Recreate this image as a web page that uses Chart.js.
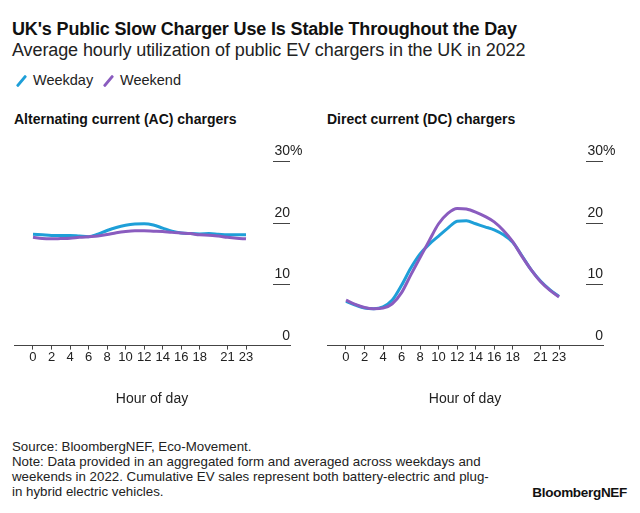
<!DOCTYPE html>
<html>
<head>
<meta charset="utf-8">
<script src="https://cdn.jsdelivr.net/npm/chart.js@4.4.1/dist/chart.umd.min.js"></script>
<style>
  html, body { margin: 0; padding: 0; background: #fff; }
  body { width: 640px; height: 513px; position: relative; overflow: hidden;
         font-family: "Liberation Sans", Arial, sans-serif; color: #111; }
  .abs { position: absolute; white-space: nowrap; }
  #title { left: 12px; top: 19px; font-size: 18px; font-weight: bold; letter-spacing: -0.15px; }
  #subtitle { left: 12px; top: 40px; font-size: 18px; letter-spacing: -0.1px; color: #222; }
  .legend { top: 72px; font-size: 14.5px; color: #222; }
  .swatch { position: absolute; top: 2px; width: 3px; height: 14px; border-radius: 1px;
            transform: rotate(40deg); }
  .panel-title { top: 111px; font-size: 14px; font-weight: bold; }
  canvas { position: absolute; }
  #footer { left: 12px; top: 439px; font-size: 13.3px; line-height: 15px; color: #222; }
  #brand { right: 13px; top: 485px; font-size: 13.5px; font-weight: bold; letter-spacing: -0.3px; }
</style>
</head>
<body>
<div id="title" class="abs">UK's Public Slow Charger Use Is Stable Throughout the Day</div>
<div id="subtitle" class="abs">Average hourly utilization of public EV chargers in the UK in 2022</div>
<div class="abs legend" style="left:15px"><span class="swatch" style="left:5px;background:#1e9fd8"></span><span style="margin-left:18px">Weekday</span></div>
<div class="abs legend" style="left:102px"><span class="swatch" style="left:5px;background:#8a5cbf"></span><span style="margin-left:18px">Weekend</span></div>
<div class="abs panel-title" style="left:14px">Alternating current (AC) chargers</div>
<div class="abs panel-title" style="left:327px">Direct current (DC) chargers</div>

<canvas id="acChart" style="left:0;top:140px;width:320px;height:268px" width="320" height="268"></canvas>
<canvas id="dcChart" style="left:313px;top:140px;width:320px;height:268px" width="320" height="268"></canvas>

<div id="footer" class="abs">Source: BloombergNEF, Eco-Movement.<br>Note: Data provided in an aggregated form and averaged across weekdays and<br>weekends in 2022. Cumulative EV sales represent both battery-electric and plug-<br>in hybrid electric vehicles.</div>
<div id="brand" class="abs">BloombergNEF</div>

<script>
/* ─────────────────────────────────────────────
   Data (utilization, % of hour)
───────────────────────────────────────────── */
const hours = [0, 1, 2, 3, 4, 5, 6, 7, 8, 9, 10, 11, 12, 13, 14, 15, 16, 17, 18, 19, 20, 21, 22, 23];

const acWeekday = [18.1, 18.0, 17.9, 17.9, 17.9, 17.8, 17.7, 18.1, 18.7, 19.2, 19.55, 19.75,
                   19.8, 19.6, 19.1, 18.6, 18.3, 18.2, 18.15, 18.2, 18.1, 18.0, 18.0, 18.0];
const acWeekend = [17.6, 17.4, 17.35, 17.4, 17.45, 17.6, 17.7, 17.8, 18.05, 18.35, 18.55, 18.65,
                   18.65, 18.6, 18.55, 18.4, 18.3, 18.2, 18.0, 17.95, 17.8, 17.6, 17.45, 17.35];

const dcWeekday = [7.2, 6.6, 6.1, 6.0, 6.3, 7.4, 9.8, 12.6, 14.9, 16.5, 17.8, 19.1,
                   20.2, 20.3, 19.8, 19.3, 18.8, 18.0, 16.8, 14.6, 12.3, 10.5, 9.1, 8.0];
const dcWeekend = [7.4, 6.7, 6.2, 6.0, 6.1, 6.8, 8.6, 11.5, 14.3, 17.1, 19.8, 21.5,
                   22.3, 22.2, 21.7, 21.0, 20.1, 18.7, 16.9, 14.5, 12.3, 10.4, 9.0, 7.9];

const xTicks = [0, 2, 4, 6, 8, 10, 12, 14, 16, 18, 21, 23];
const yTicks = [0, 10, 20, 30];

const colors = {
  weekday: '#1e9fd8',
  weekend: '#8a5cbf',
  axis: '#444',
  text: '#222',
};
const fontFamily = '"Liberation Sans", Arial, sans-serif';

/* ─────────────────────────────────────────────
   Right-hand value labels sitting on short rules
───────────────────────────────────────────── */
const rightLabels = {
  id: 'rightLabels',
  afterDraw(chart) {
    const { ctx, chartArea, scales } = chart;
    const right = chartArea.right;
    ctx.save();
    ctx.strokeStyle = colors.axis;
    ctx.lineWidth = 1;
    ctx.fillStyle = colors.text;
    ctx.font = '14px ' + fontFamily;
    ctx.textBaseline = 'alphabetic';
    yTicks.forEach(v => {
      const y = Math.round(scales.y.getPixelForValue(v)) + 0.5;
      if (v > 0) {
        ctx.beginPath();
        ctx.moveTo(right - 17, y);
        ctx.lineTo(right, y);
        ctx.stroke();
      }
      ctx.textAlign = 'right';
      ctx.fillText(String(v), right, y - 7);
      if (v === 30) {
        ctx.textAlign = 'left';
        ctx.fillText('%', right, y - 7);
      }
    });
    ctx.restore();
  }
};

function makeChart(id, weekday, weekend) {
  const el = document.getElementById(id);
  return new Chart(el, {
    type: 'line',
    data: {
      datasets: [
        {
          label: 'Weekend',
          data: hours.map((h, i) => ({ x: h, y: weekend[i] })),
          borderColor: colors.weekend,
          borderWidth: 3,
          pointRadius: 0,
          cubicInterpolationMode: 'monotone',
        },
        {
          label: 'Weekday',
          data: hours.map((h, i) => ({ x: h, y: weekday[i] })),
          borderColor: colors.weekday,
          borderWidth: 3,
          pointRadius: 0,
          cubicInterpolationMode: 'monotone',
        },
      ]
    },
    options: {
      responsive: false,
      animation: false,
      layout: { padding: { left: 14, right: 30, top: 21, bottom: 0 } },
      plugins: { legend: { display: false }, tooltip: { enabled: false } },
      scales: {
        x: {
          type: 'linear',
          min: -2.05,
          max: 27.75,
          afterBuildTicks: (scale) => { scale.ticks = xTicks.map(v => ({ value: v })); },
          grid: { drawOnChartArea: false, drawTicks: true, tickLength: 4, color: colors.axis },
          border: { display: true, color: colors.axis, width: 1 },
          ticks: {
            color: colors.text,
            font: { family: fontFamily, size: 13 },
            padding: 0,
            maxRotation: 0,
            autoSkip: false,
          },
          title: {
            display: true,
            text: 'Hour of day',
            color: colors.text,
            font: { family: fontFamily, size: 14 },
            padding: { top: 26, bottom: 0 },
          }
        },
        y: {
          display: false,
          min: 0,
          max: 30,
        }
      }
    },
    plugins: [rightLabels]
  });
}

makeChart('acChart', acWeekday, acWeekend);
makeChart('dcChart', dcWeekday, dcWeekend);
</script>
</body>
</html>
